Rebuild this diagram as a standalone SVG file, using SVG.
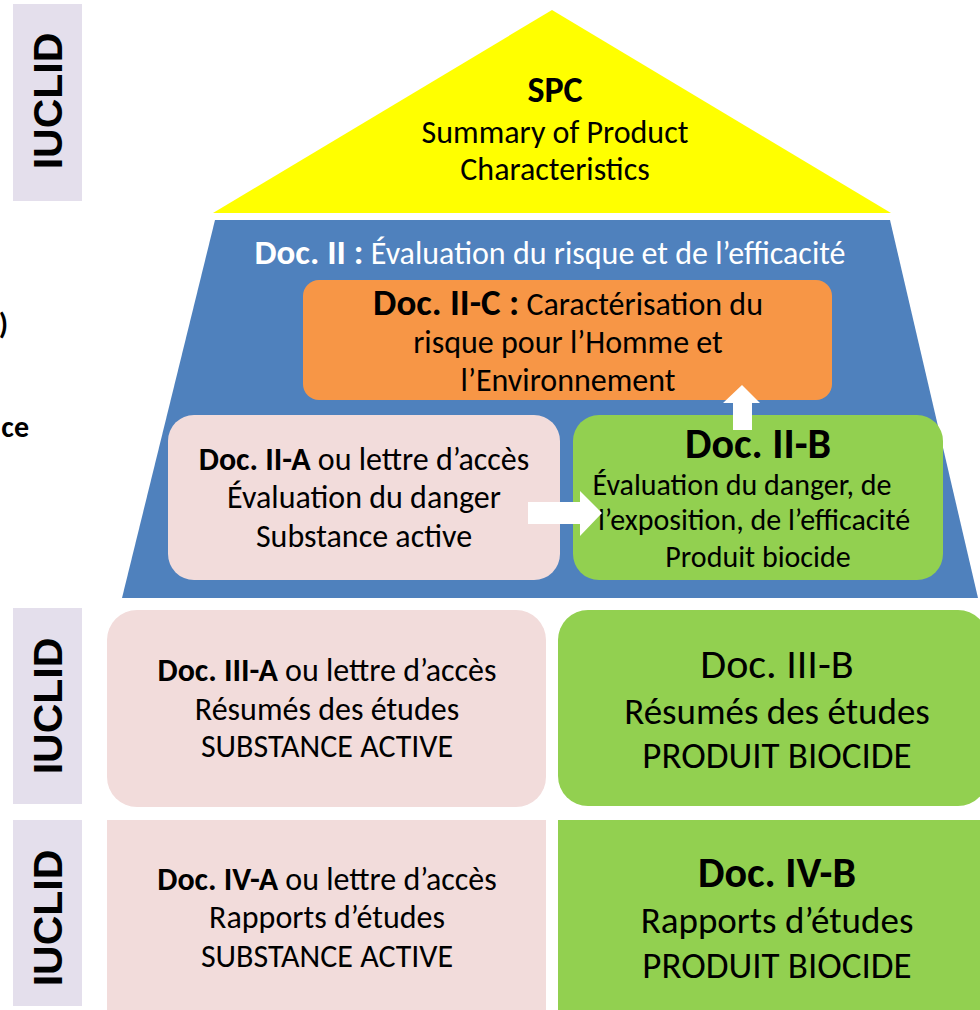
<svg xmlns="http://www.w3.org/2000/svg" width="980" height="1010" viewBox="0 0 980 1010">
<style>
text{font-family:Carlito,Lato,"Open Sans",sans-serif;text-anchor:middle;fill:#000}
.b{font-weight:bold}
.iu{font-family:"Liberation Sans",Arial,sans-serif;font-weight:bold;font-size:41px}
.w{fill:#fff}
.s30{font-size:30px}.s32{font-size:32px}.s36{font-size:36px}.s37{font-size:37px}.s42{font-size:42px}
</style>
<rect width="980" height="1010" fill="#fff"/>
<g id="iuclid1"><rect x="13" y="4" width="69" height="197" fill="#E4DFEC"/><text class="iu" transform="translate(62,101) rotate(-90)">IUCLID</text></g>
<g id="iuclid2"><rect x="13" y="608" width="69" height="196" fill="#E4DFEC"/><text class="iu" transform="translate(62,706) rotate(-90)">IUCLID</text></g>
<g id="iuclid3"><rect x="13" y="820" width="69" height="186" fill="#E4DFEC"/><text class="iu" transform="translate(62,918) rotate(-90)">IUCLID</text></g>
<g id="frag"><text class="b s30" x="8" y="334" style="text-anchor:end">)</text><text class="b s30" x="29" y="437" style="text-anchor:end">ce</text></g>
<g id="spc"><polygon points="552,10 891,213 213,213" fill="#FFFF00"/>
<text class="b s36" x="555" y="102">SPC</text>
<text class="s32" x="555" y="143">Summary of Product</text>
<text class="s32" x="555" y="180">Characteristics</text></g>
<g id="doc2"><polygon points="215,220 890,220 978,598 122,598" fill="#4F81BD"/>
<text class="w s32" x="550" y="264"><tspan class="b w" style="font-size:35px">Doc. II :</tspan> Évaluation du risque et de l’efficacité</text></g>
<g id="doc2c"><rect x="303" y="280" width="529" height="120" rx="16" fill="#F79646"/>
<text class="s32" x="568" y="315"><tspan class="b s37">Doc. II-C :</tspan> Caractérisation du</text>
<text class="s32" x="568" y="353">risque pour l’Homme et</text>
<text class="s32" x="568" y="391">l’Environnement</text></g>
<g id="doc2a"><rect x="168" y="415" width="392" height="165" rx="26" fill="#F2DCDB"/>
<text class="s32" x="364" y="470"><tspan class="b">Doc. II-A</tspan> ou lettre d’accès</text>
<text class="s32" x="364" y="508">Évaluation du danger</text>
<text class="s32" x="364" y="547">Substance active</text></g>
<g id="doc2b"><rect x="573" y="415" width="370" height="165" rx="26" fill="#92D050"/>
<text class="b s42" x="758" y="458">Doc. II-B</text>
<text class="s30" x="742" y="495">Évaluation du danger, de</text>
<text class="s30" x="754" y="530">l’exposition, de l’efficacité</text>
<text class="s30" x="758" y="567">Produit biocide</text></g>
<g id="doc3a"><rect x="107" y="610" width="439" height="197" rx="30" fill="#F2DCDB"/>
<text class="s32" x="327" y="681"><tspan class="b">Doc. III-A</tspan> ou lettre d’accès</text>
<text class="s32" x="327" y="720">Résumés des études</text>
<text class="s32" x="327" y="757">SUBSTANCE ACTIVE</text></g>
<g id="doc3b"><rect x="558" y="610" width="430" height="196" rx="30" fill="#92D050"/>
<text class="s42" x="777" y="678">Doc. III-B</text>
<text class="s37" x="777" y="724">Résumés des études</text>
<text class="s37" x="777" y="768">PRODUIT BIOCIDE</text></g>
<g id="doc4a"><rect x="107" y="820" width="439" height="190" fill="#F2DCDB"/>
<text class="s32" x="327" y="890"><tspan class="b">Doc. IV-A</tspan> ou lettre d’accès</text>
<text class="s32" x="327" y="928">Rapports d’études</text>
<text class="s32" x="327" y="967">SUBSTANCE ACTIVE</text></g>
<g id="doc4b"><rect x="558" y="820" width="422" height="190" fill="#92D050"/>
<text class="b s42" x="777" y="887">Doc. IV-B</text>
<text class="s37" x="777" y="933">Rapports d’études</text>
<text class="s37" x="777" y="978">PRODUIT BIOCIDE</text></g>
<g id="connectors" fill="#fff">
<polygon points="528,502 580,502 580,491 602,513 580,536 580,524 528,524"/>
<polygon points="733,430 733,403 723,403 742,385 760,403 752,403 752,430"/>
</g>
</svg>
